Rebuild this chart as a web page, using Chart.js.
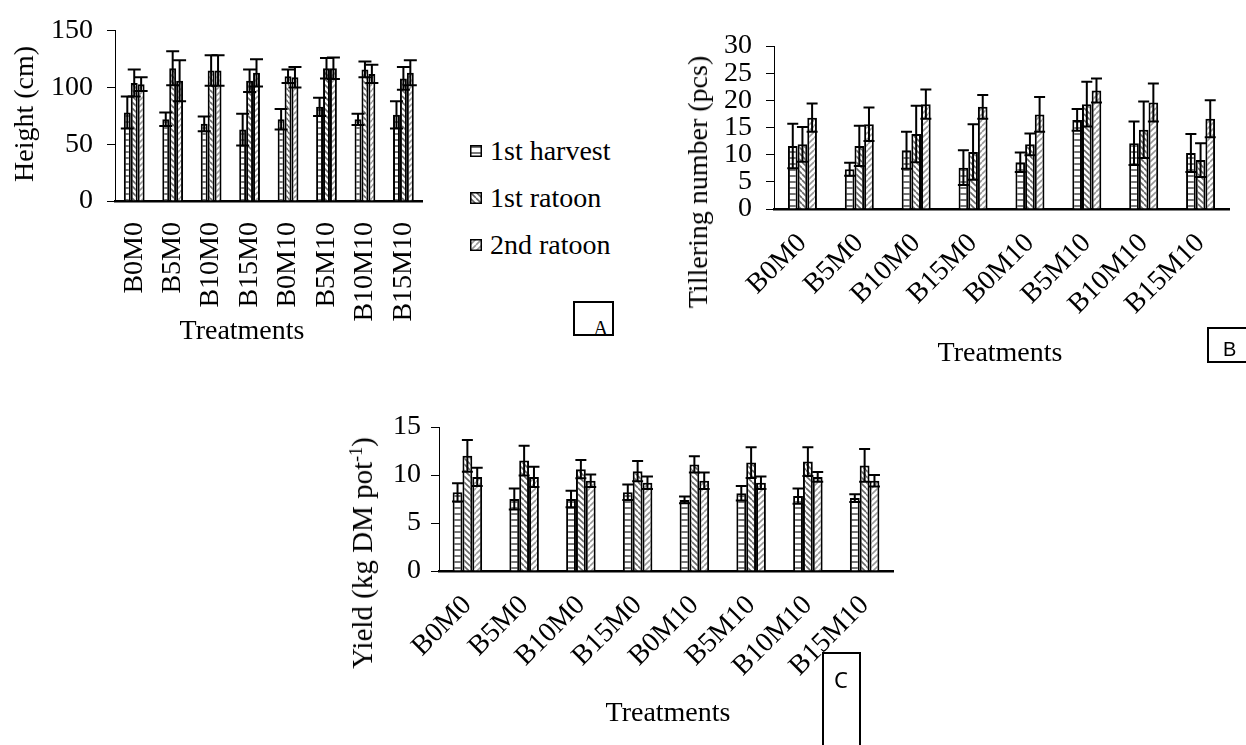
<!DOCTYPE html>
<html>
<head>
<meta charset="utf-8">
<script src="https://cdn.jsdelivr.net/npm/chart.js@4.4.1/dist/chart.umd.min.js"></script>
<style>
  body { margin: 0; width: 1246px; height: 745px; background: #fff; position: relative; overflow: hidden;
         font-family: "Liberation Serif", "Times New Roman", serif; color: #000; }
  .box { position: absolute; }
  .t { position: absolute; font-size: 28px; line-height: 1; white-space: nowrap; transform: translate(-50%, -50%); }
  .rot { transform: translate(-50%, -50%) rotate(-90deg); }
  .leg { position: absolute; left: 470px; font-size: 28px; line-height: 1; white-space: nowrap; }
  .leg canvas { position: absolute; left: 0; top: -6px; }
  .leg span { position: absolute; left: 20px; top: -14px; }
  .tag { position: absolute; border: 2px solid #000; box-sizing: border-box; }
  .tag span { position: absolute; line-height: 1; }
</style>
</head>
<body>
<div class="box" style="left:0;top:0"><canvas id="chartA" width="460" height="345"></canvas></div>
<div class="box" style="left:640px;top:0"><canvas id="chartB" width="606" height="380"></canvas></div>
<div class="box" style="left:320px;top:380px"><canvas id="chartC" width="600" height="365"></canvas></div>

<div class="t rot" style="left:24px;top:114px">Height (cm)</div>
<div class="t" style="left:242px;top:330px">Treatments</div>
<div class="t rot" style="left:698px;top:182px">Tillering number (pcs)</div>
<div class="t" style="left:1000px;top:352px">Treatments</div>
<div class="t rot" style="left:362px;top:553px;font-size:29px">Yield (kg DM pot<sup style="font-size:18px;vertical-align:10px">-1</sup>)</div>
<div class="t" style="left:668px;top:712px">Treatments</div>

<div class="leg" style="top:151px"><canvas id="lg0" width="12" height="12"></canvas><span>1st harvest</span></div>
<div class="leg" style="top:198px"><canvas id="lg1" width="12" height="12"></canvas><span>1st ratoon</span></div>
<div class="leg" style="top:245px"><canvas id="lg2" width="12" height="12"></canvas><span>2nd ratoon</span></div>

<div class="tag" style="left:573px;top:301px;width:41px;height:35px"><span style="right:4px;bottom:-4px;font-size:20px">A</span></div>
<div class="tag" style="left:1207px;top:327px;width:50px;height:36px"><span style="left:14px;top:10px;font-size:20px;font-family:'Liberation Sans',Arial,sans-serif">B</span></div>
<div class="tag" style="left:822px;top:652px;width:39px;height:120px"><span style="left:10px;top:14px;font-size:22px;font-family:'Noto Sans',Arial,sans-serif">C</span></div>

<script>
const treatments = ["B0M0", "B5M0", "B10M0", "B15M0", "B0M10", "B5M10", "B10M10", "B15M10"];
const seriesNames = ["1st harvest", "1st ratoon", "2nd ratoon"];

// A: plant height (cm)
const heightHarvest = [78, 72, 68, 63, 72, 83, 72, 76];
const heightHarvestErr = [14, 6, 6.5, 14, 9, 8, 5, 12];
const heightRatoon1 = [104, 117, 115, 106, 110, 117, 116, 108];
const heightRatoon1Err = [12, 15, 13.5, 10, 6, 9, 7, 10];
const heightRatoon2 = [103, 106, 115, 113, 109, 117, 112, 113];
const heightRatoon2Err = [6, 18, 13.5, 12, 9, 9.5, 8, 11];

// B: tillering number (pcs)
const tillerHarvest = [11.6, 7.3, 10.8, 7.6, 8.6, 16.4, 12.1, 10.3];
const tillerHarvestErr = [4.1, 1.2, 3.4, 3.2, 1.8, 2.0, 4.0, 3.5];
const tillerRatoon1 = [11.9, 11.6, 13.8, 10.5, 11.9, 19.3, 14.6, 9.0];
const tillerRatoon1Err = [3.2, 3.7, 5.2, 5.1, 2.0, 4.1, 5.2, 3.1];
const tillerRatoon2 = [16.8, 15.6, 19.3, 18.8, 17.4, 21.8, 19.6, 16.6];
const tillerRatoon2Err = [2.6, 3.1, 2.7, 2.2, 3.2, 2.2, 3.5, 3.4];

// C: yield (kg DM pot-1)
const yieldHarvest = [8.2, 7.5, 7.5, 8.2, 7.4, 8.1, 7.8, 7.6];
const yieldHarvestErr = [0.95, 1.1, 0.85, 0.8, 0.35, 0.75, 0.8, 0.4];
const yieldRatoon1 = [12.0, 11.5, 10.6, 10.4, 11.1, 11.3, 11.4, 11.0];
const yieldRatoon1Err = [1.65, 1.55, 0.95, 1.05, 0.85, 1.6, 1.5, 1.7];
const yieldRatoon2 = [9.8, 9.8, 9.4, 9.2, 9.4, 9.2, 9.8, 9.4];
const yieldRatoon2Err = [0.95, 1.05, 0.65, 0.65, 0.85, 0.65, 0.5, 0.6];

const serif = "'Liberation Serif', 'Times New Roman', serif";

function makePattern(kind) {
  const c = document.createElement("canvas");
  c.width = 6; c.height = 6;
  const g = c.getContext("2d");
  g.fillStyle = "#fff";
  g.fillRect(0, 0, 6, 6);
  g.lineWidth = 1.6;
  g.beginPath();
  if (kind === 0) {
    g.strokeStyle = "#555";
    g.moveTo(0, 2); g.lineTo(6, 2);
  } else if (kind === 1) {
    g.strokeStyle = "#666";
    for (const k of [-6, 0, 6]) { g.moveTo(k, 0); g.lineTo(k + 6, 6); }
  } else {
    g.strokeStyle = "#999";
    for (const k of [-6, 0, 6]) { g.moveTo(k, 6); g.lineTo(k + 6, 0); }
  }
  g.stroke();
  return g.createPattern(c, "repeat");
}

const patterns = [0, 1, 2].map((k) => makePattern(k));

// legend swatches
[0, 1, 2].forEach((k) => {
  const g = document.getElementById("lg" + k).getContext("2d");
  g.fillStyle = patterns[k];
  g.fillRect(0, 0, 12, 12);
  g.strokeStyle = "#000";
  g.lineWidth = 1.5;
  g.strokeRect(0.75, 0.75, 10.5, 10.5);
});

const errorBars = {
  id: "errorBars",
  afterDatasetsDraw(chart, args, opts) {
    const ctx = chart.ctx;
    const y = chart.scales.y;
    ctx.save();
    ctx.strokeStyle = "#000";
    ctx.lineWidth = 2;
    chart.data.datasets.forEach((ds, i) => {
      chart.getDatasetMeta(i).data.forEach((bar, j) => {
        const v = ds.data[j];
        const e = ds.errors[j];
        const top = y.getPixelForValue(v + e);
        const bot = y.getPixelForValue(v - e);
        const half = opts.cap / 2;
        ctx.beginPath();
        ctx.moveTo(bar.x, top); ctx.lineTo(bar.x, bot);
        ctx.moveTo(bar.x - half, top); ctx.lineTo(bar.x + half, top);
        ctx.moveTo(bar.x - half, bot); ctx.lineTo(bar.x + half, bot);
        ctx.stroke();
      });
    });
    ctx.restore();
  },
};

function drawChart(id, values, errors, cfg) {
  const datasets = values.map((vals, k) => ({
    label: seriesNames[k],
    data: vals,
    errors: errors[k],
    backgroundColor: patterns[k],
    borderColor: "#000",
    borderWidth: 2,
    categoryPercentage: cfg.catPct,
    barPercentage: 1,
  }));

  return new Chart(document.getElementById(id), {
    type: "bar",
    data: { labels: treatments, datasets: datasets },
    plugins: [errorBars],
    options: {
      responsive: false,
      animation: false,
      devicePixelRatio: 1,
      layout: { padding: cfg.padding },
      plugins: {
        legend: { display: false },
        tooltip: { enabled: false },
        errorBars: { cap: cfg.cap },
      },
      scales: {
        x: {
          grid: { display: false, drawTicks: false },
          border: { display: true, color: "#000", width: 2.5 },
          ticks: {
            color: "#000",
            font: { family: serif, size: 28 },
            minRotation: cfg.rot,
            maxRotation: cfg.rot,
            autoSkip: false,
            padding: cfg.xPad,
          },
          afterFit: (s) => { s.height = cfg.xHeight; },
        },
        y: {
          min: 0,
          max: cfg.yMax,
          grid: { display: true, drawOnChartArea: false, drawTicks: true, tickLength: 8, color: "#000", lineWidth: 1 },
          border: { display: true, color: "#000", width: 1 },
          ticks: {
            stepSize: cfg.step,
            autoSkip: false,
            color: "#000",
            font: { family: serif, size: 28 },
            padding: cfg.yPad,
          },
          afterFit: (s) => { s.width = cfg.yWidth; },
        },
      },
    },
  });
}

drawChart("chartA",
  [heightHarvest, heightRatoon1, heightRatoon2],
  [heightHarvestErr, heightRatoon1Err, heightRatoon2Err],
  { catPct: 0.54, cap: 13, rot: 90, xPad: 21, xHeight: 144, yWidth: 115, yMax: 150, step: 50, yPad: 14,
    padding: { top: 25, right: 32, left: 0, bottom: 0 } });

drawChart("chartB",
  [tillerHarvest, tillerRatoon1, tillerRatoon2],
  [tillerHarvestErr, tillerRatoon1Err, tillerRatoon2Err],
  { catPct: 0.51, cap: 11, rot: 45, xPad: 18, xHeight: 171, yWidth: 134, yMax: 30, step: 5, yPad: 14,
    padding: { top: 46, right: 17, left: 0, bottom: 0 } });

drawChart("chartC",
  [yieldHarvest, yieldRatoon1, yieldRatoon2],
  [yieldHarvestErr, yieldRatoon1Err, yieldRatoon2Err],
  { catPct: 0.52, cap: 11, rot: 45, xPad: 18, xHeight: 174, yWidth: 119, yMax: 15, step: 5, yPad: 10,
    padding: { top: 47, right: 27, left: 0, bottom: 0 } });
</script>
</body>
</html>
